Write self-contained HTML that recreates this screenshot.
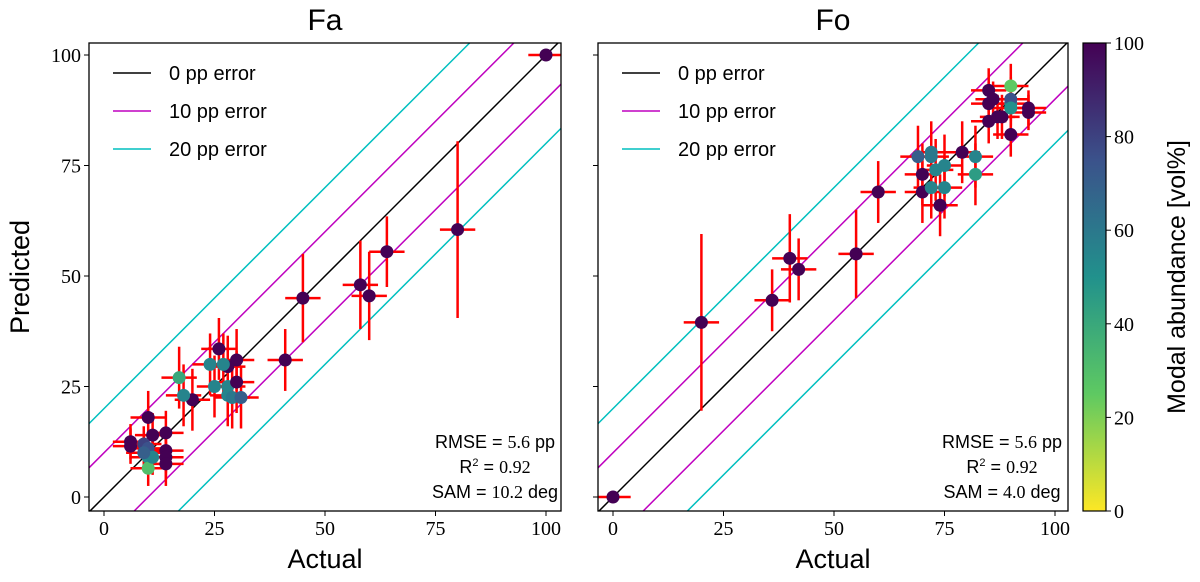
<!DOCTYPE html>
<html><head><meta charset="utf-8"><style>
html,body{margin:0;padding:0;background:#fff;overflow:hidden;width:1200px;height:582px;}
svg{display:block;}
svg text{font-family:"Liberation Sans",sans-serif;}
.serif{font-family:"Liberation Serif",serif !important;}
</style></head><body>
<svg id="chart" width="1200" height="582" xmlns="http://www.w3.org/2000/svg">
<defs>
<linearGradient id="viridis" x1="0" y1="1" x2="0" y2="0">
<stop offset="0" stop-color="#fde725"/><stop offset="0.25" stop-color="#5ec962"/><stop offset="0.5" stop-color="#21918c"/><stop offset="0.75" stop-color="#3b528b"/><stop offset="1" stop-color="#440154"/>
</linearGradient>
</defs>
</svg>
<script>
const faActual=[100,80,64,60,58,45,41,30,28,26,27,24,25,28,28,29,31,30,20,18,17,10,11,14,14,14,14,6,6,9,10,10,10,11,9];
const faPred=[100,60.5,55.5,45.5,48,45,31,31,29.5,33.5,30,30,25,25,23,22.5,22.5,26,22,23,27,18,14,14.5,10.5,9,7.5,12.5,11.5,12,11,9,6.5,9,10];
const faAbund=[100,100,100,100,100,100,100,100,100,100,55,55,55,55,55,60,70,100,100,55,40,100,100,100,100,100,100,100,100,80,75,50,30,55,70];
const faErrY=[1,20,8,10,10,10,7,7,7,7,7,7,7,7,7,7,7,7,7,7,7,6,5,5,5,5,5,4,4,4,4,4,4,4,4];
const foActual=[0,20,36,40,42,55,60,69,70,70,72,72,73,72,74,75,75,79,82,82,85,85,85,87,88,90,90,90,90,90,94,94,86];
const foPred=[0,39.5,44.5,54,51.5,55,69,77,69,73,77,78,74,70,66,75,70,78,77,73,89,92,85,86,86,93,89,90,88,82,88,87,90];
const foAbund=[100,100,100,100,100,100,100,70,100,100,60,60,55,55,100,55,55,100,55,45,100,100,100,100,100,25,55,75,50,100,100,100,100];
const foErrY=[1,20,7,10,7,10,7,7,7,7,7,7,7,7,7,7,7,7,7,7,5,5,5,5,5,5,5,5,5,5,4,4,4];
const ticks=[0,25,50,75,100];
const cbTicks=[0,20,40,60,80,100];
const errOffsets=[-20,-10,0,10,20];

const NS="http://www.w3.org/2000/svg";
const svg=document.getElementById('chart');
function mk(tag,attrs,parent){const e=document.createElementNS(NS,tag);for(const k in attrs)e.setAttribute(k,attrs[k]);(parent||svg).appendChild(e);return e;}
const sy=v=>497-4.42*v;
const yMin=(497-511)/4.42, yMax=(497-43)/4.42;
function viridis(t){const s=[[253,231,37],[94,201,98],[33,145,140],[59,82,139],[68,1,84]];t=Math.max(0,Math.min(1,t))*4;const i=Math.min(3,Math.floor(t)),f=t-i;const a=s[i],b=s[i+1];return `rgb(${a.map((c,j)=>Math.round(c+(b[j]-c)*f)).join(',')})`;}

function panel(x0,title,actual,pred,abund,errY,stats,bx,bw,nameP){
  const sx=v=>x0+4.42*v;
  const xMin=(bx-x0)/4.42, xMax=(bx+bw-x0)/4.42;
  const g=mk('g',{});
  
  
  const cg=mk('g',{},g);
  errOffsets.forEach(o=>{
    const c=o===0?'#000':(Math.abs(o)===10?'#bf00bf':'#00bfbf');
    const xs=Math.max(xMin,yMin-o), xe=Math.min(xMax,yMax-o);
    const l=mk('line',{x1:sx(xs),y1:sy(xs+o),x2:sx(xe),y2:sy(xe+o),stroke:c,'stroke-width':1.5},cg);
    
    
  });
  actual.forEach((a,i)=>{
    const p=pred[i];
    const eb=mk('g',{},cg);
    
    
    mk('line',{x1:sx(Math.max(xMin,a-4)),x2:sx(Math.min(xMax,a+4)),y1:sy(p),y2:sy(p),stroke:'#ff0000','stroke-width':2.5},eb);
    mk('line',{x1:sx(a),x2:sx(a),y1:sy(Math.max(yMin,p-errY[i])),y2:sy(Math.min(yMax,p+errY[i])),stroke:'#ff0000','stroke-width':2.5},eb);
  });
  actual.forEach((a,i)=>{
    const c=mk('circle',{cx:sx(a),cy:sy(pred[i]),r:6.5,fill:viridis(abund[i]/100)},cg);
    
    
  });
  const fr=mk('rect',{x:bx,y:43,width:bw,height:468,fill:'none',stroke:'#000','stroke-width':1.3},g);
  
  
  ticks.forEach(t=>{
    mk('line',{x1:sx(t),x2:sx(t),y1:511,y2:516,stroke:'#000'},g);
    const tx=mk('text',{x:sx(t),y:535,'text-anchor':'middle','font-size':20,class:'serif'},g);tx.textContent=t;
    
    
    mk('line',{x1:bx,x2:bx-5,y1:sy(t),y2:sy(t),stroke:'#000'},g);
    if(nameP==='fa'){const ty=mk('text',{x:bx-8,y:sy(t)+7,'text-anchor':'end','font-size':20,class:'serif'},g);ty.textContent=t;
      
      }
  });
  const tt=mk('text',{x:bx+bw/2,y:30,'text-anchor':'middle','font-size':30},g);tt.textContent=title;
  
  
  const xl=mk('text',{x:bx+bw/2,y:568,'text-anchor':'middle','font-size':27},g);xl.textContent='Actual';
  
  
  const leg=mk('g',{},g);
  
  
  [['0 pp error','#000'],['10 pp error','#bf00bf'],['20 pp error','#00bfbf']].forEach(([t,c],i)=>{
    const y=73+i*38;
    mk('line',{x1:bx+24,x2:bx+62,y1:y,y2:y,stroke:c,'stroke-width':1.5},leg);
    const lt=mk('text',{x:bx+80,y:y+7,'font-size':20},leg);lt.textContent=t;
    
    
  });
  stats.forEach((s,i)=>{
    const st=mk('text',{x:bx+bw-66,y:448+i*25,'text-anchor':'middle','font-size':18},g);
    st.innerHTML=s;
    
    
  });
}
panel(104,'Fa',faActual,faPred,faAbund,faErrY,['RMSE = <tspan class="serif">5.6</tspan> pp','R<tspan font-size="11" dy="-7">2</tspan><tspan dy="7"> = </tspan><tspan class="serif">0.92</tspan>','SAM = <tspan class="serif">10.2</tspan> deg'],89,472,'fa');
panel(613,'Fo',foActual,foPred,foAbund,foErrY,['RMSE = <tspan class="serif">5.6</tspan> pp','R<tspan font-size="11" dy="-7">2</tspan><tspan dy="7"> = </tspan><tspan class="serif">0.92</tspan>','SAM = <tspan class="serif">4.0</tspan> deg'],598,470,'fo');

const yl=mk('text',{x:0,y:0,'text-anchor':'middle','font-size':27,transform:'translate(29,277) rotate(-90)'});
yl.textContent='Predicted';



const cb=mk('g',{});


mk('rect',{x:1083,y:43,width:23,height:468,fill:'url(#viridis)',stroke:'#000','stroke-width':1.2},cb);
cbTicks.forEach(t=>{
  const y=511-4.68*t;
  mk('line',{x1:1106,x2:1111,y1:y,y2:y,stroke:'#000'},cb);
  const ct=mk('text',{x:1114,y:y+7,'font-size':20,class:'serif'},cb);ct.textContent=t;
  
  
});
const cl=mk('text',{x:0,y:0,'text-anchor':'middle','font-size':25,transform:'translate(1185,277) rotate(-90)'},cb);
cl.textContent='Modal abundance [vol%]';


</script>
</body></html>
